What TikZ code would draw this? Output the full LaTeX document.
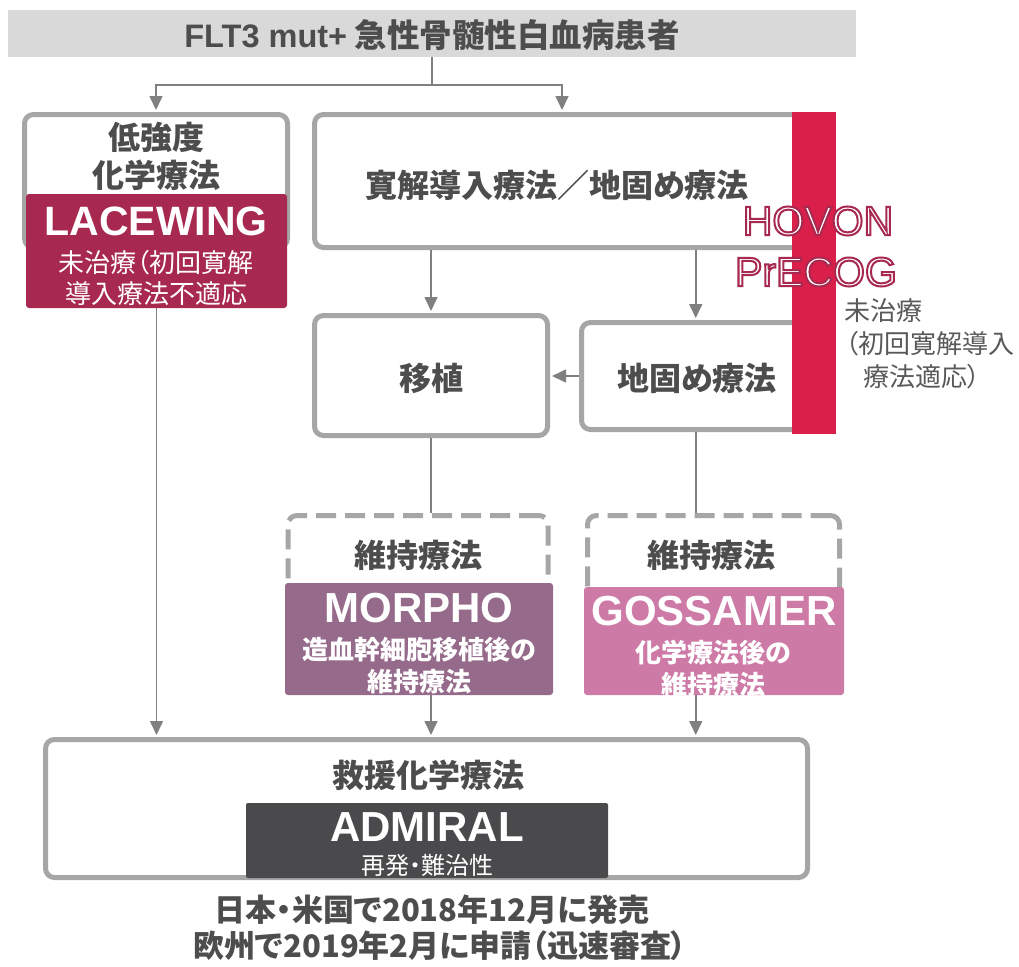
\documentclass[tikz,border=0pt]{standalone}
\usepackage{fontspec}
\setmainfont{Noto Sans CJK JP}[RawFeature={+palt}]
\newfontfamily\arial{Liberation Sans}
\usetikzlibrary{arrows.meta}
\definecolor{topgray}{HTML}{D9D9D9}
\definecolor{boxgray}{HTML}{A6A6A6}
\definecolor{linegray}{HTML}{808080}
\definecolor{textgray}{HTML}{4D4D4D}
\definecolor{rtextgray}{HTML}{595959}
\definecolor{lacecol}{HTML}{A8294F}
\definecolor{redbar}{HTML}{DA1F4A}
\definecolor{morphocol}{HTML}{956A8A}
\definecolor{gosscol}{HTML}{CD7AA6}
\definecolor{admcol}{HTML}{4A4A4C}
\newcommand\outlined[1]{\special{pdf:literal direct 0.659 0.161 0.310 RG 2 Tr 2 w}#1\special{pdf:literal direct 0 Tr}}
\tikzset{
  box/.style={draw=boxgray, line width=5pt, rounded corners=9pt, fill=white, inner sep=0pt},
  dbox/.style={box, dash pattern=on 20pt off 9pt},
  tbox/.style={inner sep=0pt, rounded corners=3pt},
  conn/.style={draw=linegray, line width=1.6pt},
  arr/.style={conn, -{Triangle[length=14pt,width=13pt]}, shorten >=2pt},
  lbl/.style={text=textgray, font=\fontsize{32}{38}\selectfont\bfseries, align=center, inner sep=0pt},
  trial/.style={text=white, font=\arial\fontsize{42}{42}\selectfont\bfseries, inner sep=0pt},
  sub/.style={text=white, font=\fontsize{26}{31}\selectfont, align=center, inner sep=0pt},
  subb/.style={text=white, font=\fontsize{26}{32}\selectfont\bfseries, align=center, inner sep=0pt},
  rtext/.style={text=rtextgray, font=\fontsize{26}{30}\selectfont, anchor=west, inner sep=0pt},
  hov/.style={font=\arial\fontsize{41}{41}\selectfont, inner sep=0pt, text=white},
}
\begin{document}
\begin{tikzpicture}[x=1pt,y=-1pt]
\useasboundingbox (0,0) rectangle (1019,966);
% top bar
\node[fill=topgray, minimum width=848pt, minimum height=47pt, inner sep=0pt] (top) at (432,33.5) {};
\node[lbl, font=\fontsize{32.5}{38}\selectfont\bfseries] (toptext) at (432,35) {{\arial FLT3 mut+} 急性骨髄性白血病患者};
% left box
\node[box, minimum width=263pt, minimum height=133pt] (low) at (156,181) {};
\node[lbl] (lowtext) at (156,156) {低強度\\化学療法};
\node[tbox, fill=lacecol, minimum width=261pt, minimum height=114pt] (lace) at (156.5,251) {};
\node[trial, font=\arial\fontsize{41}{41}\selectfont\bfseries] (lacet) at (156,221) {LACEWING};
\node[sub] (laces) at (156,278) {未治療（初回寛解\\導入療法不適応};
% main box
\node[box, minimum width=495pt, minimum height=133pt] (main) at (562,181) {};
\node[lbl] (maintext) at (557,185) {寛解導入療法／地固め療法};
% transplant and consolidation
\node[box, minimum width=233pt, minimum height=120pt] (iso) at (431,375.5) {};
\node[lbl] (isot) at (431,378) {移植};
\node[box, minimum width=228.5pt, minimum height=107pt] (jika) at (695.75,376) {};
\node[lbl] (jikat) at (697,378) {地固め療法};
% red bar
\node[fill=redbar, minimum width=44pt, minimum height=322pt, inner sep=0pt] (bar) at (814,273) {};
\node[hov] (hovon) at (818,221) {\outlined{HOVON}};
\node[hov] (precog) at (816,272) {\outlined{PrECOG}};
\node[rtext] (r1) at (844,311) {未治療};
\node[rtext] (r2) at (845,344) {（初回寛解導入};
\node[rtext] (r3) at (863,377) {療法適応）};
% maintenance
\node[dbox, minimum width=260pt, minimum height=84.5pt] (iji1) at (418,557.75) {};
\node[dbox, minimum width=252pt, minimum height=84.5pt] (iji2) at (713.5,557.75) {};
\node[lbl] (iji1t) at (418,555) {維持療法};
\node[lbl] (iji2t) at (711,555) {維持療法};
\node[tbox, fill=morphocol, minimum width=268pt, minimum height=112pt] (morpho) at (419,639) {};
\node[trial] (morphot) at (419,608) {MORPHO};
\node[subb] (morphos) at (419,665.5) {造血幹細胞移植後の\\維持療法};
\node[tbox, fill=gosscol, minimum width=260pt, minimum height=108pt] (goss) at (714,641) {};
\node[trial] (gosst) at (714,611) {GOSSAMER};
\node[subb] (gosss) at (713,668.5) {化学療法後の\\維持療法};
% salvage
\node[box, minimum width=762pt, minimum height=138pt] (salv) at (426.5,808.5) {};
\node[lbl] (salvt) at (428,775) {救援化学療法};
\node[tbox, fill=admcol, rounded corners=2pt, minimum width=362pt, minimum height=75pt] (adm) at (427,840.5) {};
\node[trial] (admt) at (427,827) {ADMIRAL};
\node[sub, font=\fontsize{24}{28}\selectfont] (adms) at (427,865) {再発・難治性};
% bottom notes
\node[lbl, font=\fontsize{31}{35}\selectfont\bfseries] (b1) at (432,910) {日本・米国で2018年12月に発売};
\node[lbl, font=\fontsize{31}{35}\selectfont\bfseries] (b2) at (440,946) {欧州で2019年2月に申請（迅速審査）};
% connectors
\draw[conn] (top.south) -- ++(0,28) coordinate (split);
\draw[arr] (split) -| (low.north);
\draw[arr] (split) -| (main.north);
\draw[arr] (main.south -| iso.north) -- (iso.north);
\draw[arr] (main.south -| jika.north) -- (jika.north);
\draw[arr] (jika.west) -- (jika.west -| iso.east);
\draw[conn] (iso.south) -- (iso.south |- iji1.north);
\draw[conn] (jika.south) -- (jika.south |- iji2.north);
\draw[arr] (lace.south) -- (lace.south |- salv.north);
\draw[arr] (iso.south |- morpho.south) -- (iso.south |- salv.north);
\draw[arr] (jika.south |- goss.south) -- (jika.south |- salv.north);
\end{tikzpicture}
\end{document}
